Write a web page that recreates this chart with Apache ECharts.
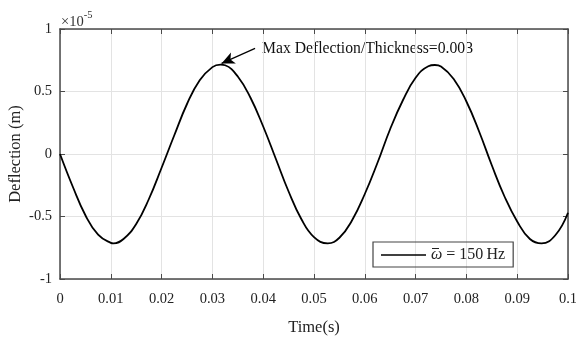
<!DOCTYPE html>
<html>
<head>
<meta charset="utf-8">
<script src="https://cdn.jsdelivr.net/npm/echarts@6/dist/echarts.min.js"></script>
<style>html,body{margin:0;padding:0;background:#fff;}#c{width:576px;height:339px;}</style>
</head>
<body>
<div id="c"></div>
<script>
// Time (s)
var time = [0,0.0025,0.005,0.0075,0.01,0.0105,0.0125,0.015,0.0175,0.02,0.0225,0.025,0.0275,0.03,0.0316,0.0325,0.035,0.0375,0.04,0.0425,0.045,0.0475,0.05,0.0527,0.055,0.0575,0.06,0.0625,0.065,0.0675,0.07,0.0725,0.0738,0.075,0.0775,0.08,0.0825,0.085,0.0875,0.09,0.0925,0.0948,0.0975,0.1];
// Deflection (m), in units of 1e-5
var deflection = [0,-0.26,-0.49,-0.645,-0.711,-0.715,-0.68,-0.56,-0.36,-0.11,0.15,0.40,0.59,0.695,0.715,0.71,0.62,0.45,0.22,-0.04,-0.30,-0.52,-0.665,-0.715,-0.67,-0.53,-0.32,-0.07,0.20,0.43,0.61,0.702,0.712,0.70,0.60,0.42,0.18,-0.09,-0.34,-0.54,-0.68,-0.715,-0.65,-0.47];
var xTicks = [0,0.01,0.02,0.03,0.04,0.05,0.06,0.07,0.08,0.09,0.1];
var xTickLabels = ['0','0.01','0.02','0.03','0.04','0.05','0.06','0.07','0.08','0.09','0.1'];
var yTicks = [-1,-0.5,0,0.5,1];
var yTickLabels = ['-1','-0.5','0','0.5','1'];
var seriesName = 'omega';
// annotation arrow (data coords): from text to peak
var arrowFrom = [0.0384, 0.845];
var arrowTo = [0.0318, 0.725];

var F = 'Liberation Serif';
var axisColor = '#4a4a4a';
var data = time.map(function(t,i){return [t, deflection[i]];});
function xl(v){var i = xTicks.findIndex(function(t){return Math.abs(t-v)<1e-9;}); return i>=0?xTickLabels[i]:'';}
function yl(v){var i = yTicks.findIndex(function(t){return Math.abs(t-v)<1e-9;}); return i>=0?yTickLabels[i]:'';}

var chart = echarts.init(document.getElementById('c'));
chart.setOption({
  animation:false,
  backgroundColor:'#fff',
  grid:{left:60,right:8,top:29,bottom:60,containLabel:false,outerBoundsMode:'none'},
  xAxis:[{
    type:'value', min:0, max:0.1, interval:0.01, position:'bottom',
    name:'Time(s)', nameLocation:'middle', nameGap:40, nameMoveOverlap:false,
    nameTextStyle:{fontFamily:F,fontSize:16.5,color:'#222'},
    axisLine:{show:true,onZero:false,lineStyle:{color:axisColor,width:1.5}},
    axisTick:{show:true,inside:true,length:5,lineStyle:{color:axisColor}},
    axisLabel:{formatter:xl,fontFamily:F,fontSize:14.5,color:'#222',margin:13},
    splitLine:{show:true,lineStyle:{color:'#e3e3e3',width:1}}
  },{
    type:'value', min:0, max:0.1, interval:0.01, position:'top',
    axisLine:{show:true,onZero:false,lineStyle:{color:axisColor,width:1.5}},
    axisTick:{show:true,inside:true,length:5,lineStyle:{color:axisColor}},
    axisLabel:{show:false}, splitLine:{show:false}
  }],
  yAxis:[{
    type:'value', min:-1, max:1, interval:0.5, position:'left',
    name:'Deflection (m)', nameLocation:'middle', nameGap:36, nameRotate:90, nameMoveOverlap:false,
    nameTextStyle:{fontFamily:F,fontSize:16.5,color:'#222'},
    axisLine:{show:true,onZero:false,lineStyle:{color:axisColor,width:1.5}},
    axisTick:{show:true,inside:true,length:5,lineStyle:{color:axisColor}},
    axisLabel:{formatter:yl,fontFamily:F,fontSize:14.5,color:'#222',margin:8},
    splitLine:{show:true,lineStyle:{color:'#e3e3e3',width:1}}
  },{
    type:'value', min:-1, max:1, interval:0.5, position:'right',
    axisLine:{show:true,onZero:false,lineStyle:{color:axisColor,width:1.5}},
    axisTick:{show:true,inside:true,length:5,lineStyle:{color:axisColor}},
    axisLabel:{show:false}, splitLine:{show:false}
  }],
  legend:{
    left:373, top:242,
    data:[seriesName],
    icon:'rect', itemWidth:45, itemHeight:1.6, itemGap:0,
    borderColor:'#444', borderWidth:1.2, borderRadius:0,
    padding:[5,8,4,8],
    itemStyle:{color:'#000'},
    formatter:function(){return '{w|ω} {t|= 150\u2009Hz}';},
    textStyle:{
      fontFamily:F,fontSize:16,color:'#222',padding:[0,0,0,0],
      rich:{
        w:{fontFamily:F,fontSize:16,fontStyle:'italic',color:'#222'},
        t:{fontFamily:F,fontSize:16,color:'#222'}
      }
    }
  },
  graphic:[{
    type:'text', left:61, top:10,
    style:{
      text:'{a|×10}{b|-5}',
      rich:{
        a:{fontFamily:F,fontSize:14.5,fill:'#333',verticalAlign:'bottom'},
        b:{fontFamily:F,fontSize:10.5,fill:'#333',verticalAlign:'top',padding:[0,0,9,0]}
      }
    }
  },{
    type:'line', shape:{x1:432,y1:248.5,x2:439,y2:248.5}, style:{stroke:'#222',lineWidth:1}
  },{
    type:'text', left:262, top:41,
    style:{text:'Max Deflection/Thickness=0.003', font:'15.7px "Liberation Serif"', fill:'#111'}
  }],
  series:[{
    name:seriesName, type:'line', data:data, smooth:0.45, showSymbol:false,
    lineStyle:{color:'#000',width:1.8}, itemStyle:{color:'#000'},
    markLine:{
      silent:true, symbol:['none','arrow'], symbolSize:[9,13],
      label:{show:false},
      lineStyle:{color:'#000',width:1.2,type:'solid'},
      data:[[{coord:arrowFrom},{coord:arrowTo}]]
    }
  }]
});
</script>
</body>
</html>
